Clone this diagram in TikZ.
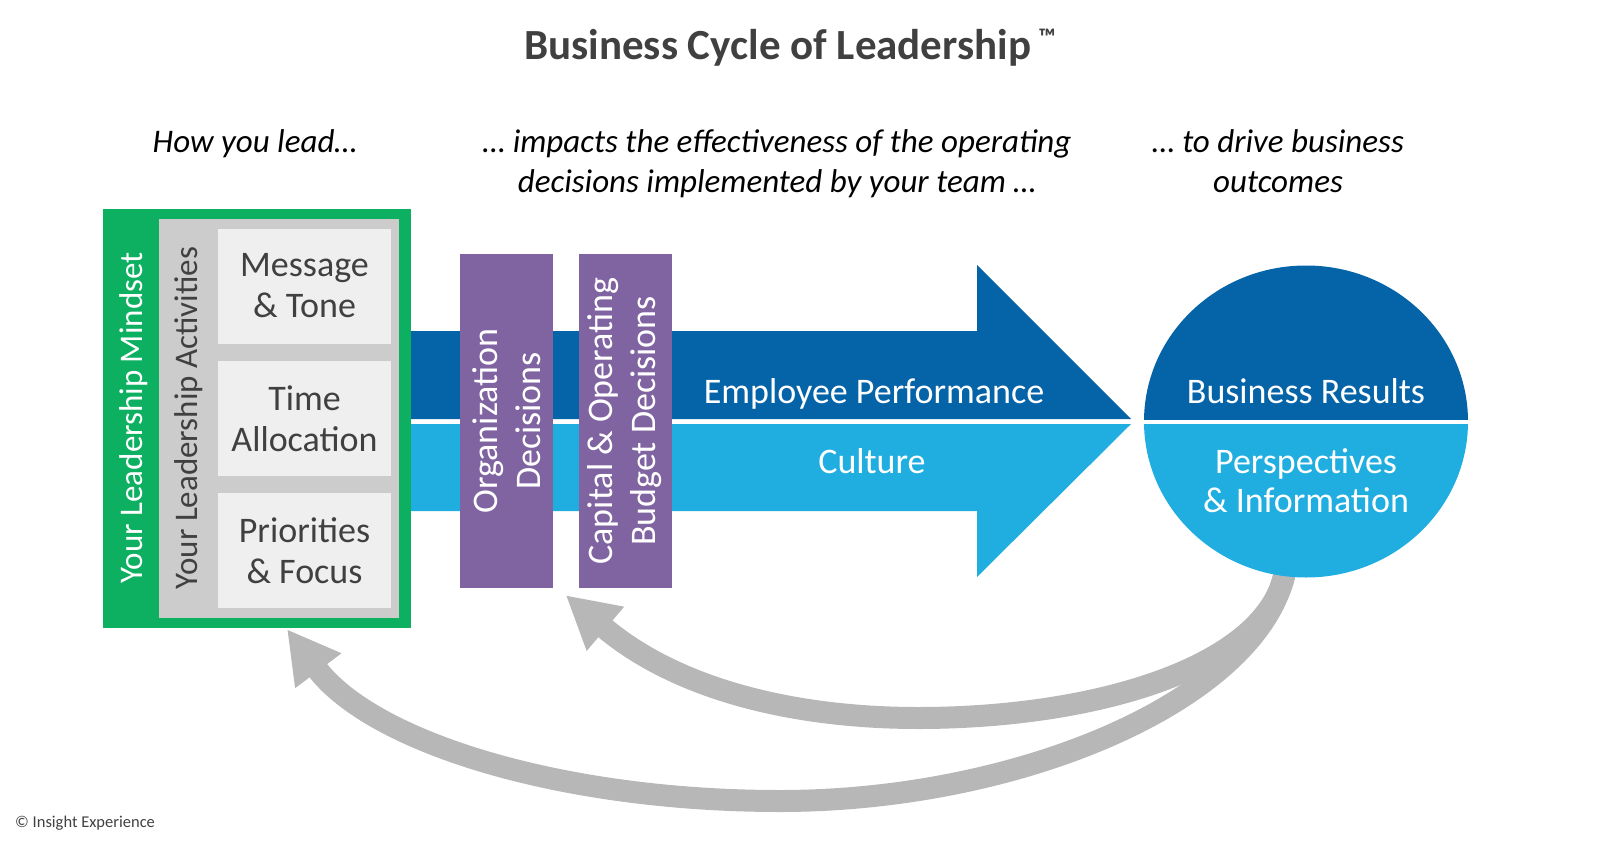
\documentclass[tikz,border=0pt]{standalone}
\usepackage{fontspec}
\setmainfont{Carlito}
\usetikzlibrary{shapes, arrows.meta, positioning, calc}
\definecolor{leadgreen}{RGB}{12,176,96}
\definecolor{actgray}{RGB}{204,204,204}
\definecolor{itemgray}{RGB}{239,239,239}
\definecolor{textgray}{RGB}{64,64,64}
\definecolor{perfblue}{RGB}{5,99,167}
\definecolor{cultblue}{RGB}{32,173,224}
\definecolor{decpurple}{RGB}{128,100,162}
\definecolor{loopgray}{RGB}{183,183,183}
\tikzstyle{mindsetbox} = [rectangle, fill=leadgreen, minimum width=308pt, minimum height=419pt, inner sep=0pt]
\tikzstyle{activitybox} = [rectangle, fill=actgray, minimum width=240pt, minimum height=399pt, inner sep=0pt]
\tikzstyle{itembox} = [rectangle, fill=itemgray, minimum width=173pt, minimum height=115pt, inner sep=0pt, align=center, text=textgray, font=\fontsize{36}{41}\selectfont]
\tikzstyle{decisionbox} = [rectangle, fill=decpurple, minimum width=93pt, minimum height=334pt, inner sep=0pt]
\tikzstyle{sidetext} = [rotate=90, inner sep=0pt, font=\fontsize{33}{40}\selectfont]
\tikzstyle{dectext} = [rotate=90, inner sep=0pt, align=center, text=white, font=\fontsize{36}{43}\selectfont]
\tikzstyle{bandtext} = [inner sep=0pt, align=center, text=white, font=\fontsize{36}{39}\selectfont]
\tikzstyle{leadtext} = [inner sep=0pt, align=center, font=\fontsize{33}{40}\selectfont\itshape]
\tikzstyle{loop} = [draw=loopgray, line width=22pt, -{Triangle[length=52pt, width=54pt]}]

\begin{document}
\begin{tikzpicture}[x=1pt, y=1pt]
			\useasboundingbox (0,0) rectangle (1600,-848);
			\node [inner sep=0pt, anchor=base west, text=textgray, font=\fontsize{43}{46}\selectfont\bfseries] (title) at (524,-60) {Business Cycle of Leadership\,\raisebox{14pt}{\fontsize{24}{24}\selectfont ™}};
			\node [leadtext] (howlead) at (255,-144) {How you lead…};
			\node [leadtext] (impacts) at (777,-164) {… impacts the effectiveness of the operating\\decisions implemented by your team …};
			\node [leadtext] (drive) at (1278,-161) {… to drive business\\outcomes};
			
			% big arrow
			\fill [perfblue] (411,-331) -- (977,-331) -- (977,-265) -- (1131,-419) -- (411,-419) -- cycle;
			\fill [cultblue] (411,-424) -- (1131,-424) -- (977,-577) -- (977,-511) -- (411,-511) -- cycle;
			\node [bandtext, anchor=base] (performance) at (874,-403) {Employee Performance};
			\node [bandtext, anchor=base] (culture) at (872,-473) {Culture};
			
			% leadership boxes
			\node [mindsetbox] (mindset) at (257,-418.5) {};
			\node [activitybox] (activities) at (279,-418.5) {};
			\node [itembox] (message) at (304.5,-286) {Message\\\& Tone};
			\node [itembox] (time) at (304.5,-418.5) {Time\\Allocation};
			\node [itembox] (priorities) at (304.5,-550.5) {Priorities\\\& Focus};
			\node [sidetext, text=white] (mindsetlabel) at (134,-418) {Your Leadership Mindset};
			\node [sidetext, text=textgray] (activitylabel) at (189,-418) {Your Leadership Activities};
			
			% decisions
			\node [decisionbox] (org) at (506.5,-421) {};
			\node [decisionbox] (capital) at (625,-421) {};
			\node [dectext] (orglabel) at (org) {Organization\\Decisions};
			\node [dectext] (capitallabel) at (capital) {Capital \& Operating\\Budget Decisions};
			
			% feedback loops
			\node [ellipse, minimum width=324pt, minimum height=312pt, inner sep=0pt] (results) at (1306,-421.5) {};
			\coordinate (loopstart) at ([xshift=-21pt, yshift=6pt]results.south);
			\coordinate (gap) at ($(org.south east)!0.5!(capital.south west) + (0,-7)$);
			\coordinate (mindsetin) at ([xshift=30pt, yshift=-1pt]mindset.south);
			\path [loop] (loopstart) .. controls (1268,-665) and (1100,-718) .. (918,-718) .. controls (800,-718) and (680,-692) .. (gap);
			\path [loop] (loopstart) .. controls (1258,-700) and (1020,-801) .. (780,-801) .. controls (560,-801) and (372,-742) .. (mindsetin);
			
			% results
			\begin{scope}
				\clip (1130,-419) rectangle (1480,-250);
				\fill [perfblue] (results.center) ellipse [x radius=162, y radius=156];
			\end{scope}
			\begin{scope}
				\clip (1130,-424) rectangle (1480,-590);
				\fill [cultblue] (results.center) ellipse [x radius=162, y radius=156];
			\end{scope}
			\node [bandtext, anchor=base] (business) at (1306,-403) {Business Results};
			\node [bandtext] (perspectives) at (1306,-481) {Perspectives\\\& Information};
			
			\node [inner sep=0pt, anchor=base west, text=textgray, font=\fontsize{16.5}{20}\selectfont] (copyright) at (15,-827) {© Insight Experience};
		\end{tikzpicture}
\end{document}
